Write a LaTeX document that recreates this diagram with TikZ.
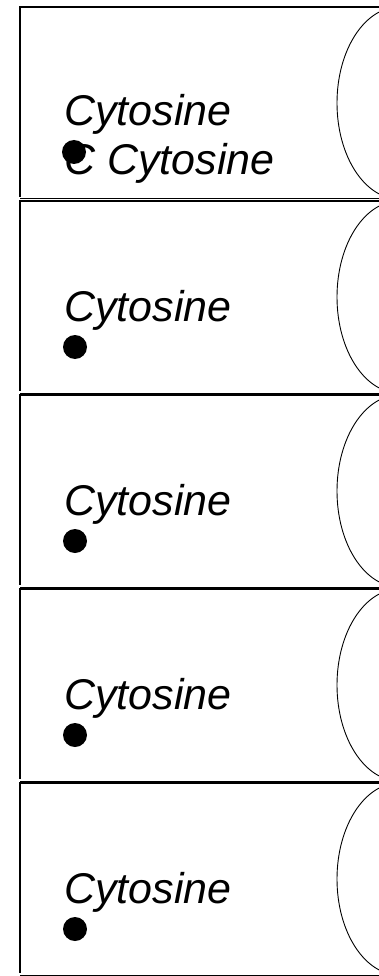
\documentclass[tikz,border=0pt]{standalone}
\usepackage{fontspec}
\setmainfont{Liberation Sans}
\usetikzlibrary{shapes.geometric}
\begin{document}
\begin{tikzpicture}[x=1pt,y=-1pt,
  topline/.style={line width=2pt},
  sideline/.style={line width=2pt},
  botline/.style={line width=1pt},
  lobe/.style={line width=0.9pt},
  label/.style={anchor=base west,inner sep=0pt,font=\fontsize{43}{49}\selectfont\itshape},
  blob/.style={circle,fill=black,inner sep=0pt,minimum size=24pt}]
\useasboundingbox (0,0) rectangle (379,976);
\clip (0,0) rectangle (379,976);
\foreach \i in {0,...,4}{
  \pgfmathsetmacro{\T}{7+194*\i}
  \coordinate (tl\i) at (19,\T);
  \coordinate (tr\i) at (390,\T);
  \coordinate (lb\i) at (20,\T+190);
  \coordinate (bl\i) at (20,\T+192);
  \coordinate (br\i) at (390,\T+192);
  \draw[topline] (tl\i) -- (tr\i);
  \draw[sideline] (20,\T) -- (lb\i);
  \draw[botline] (bl\i) -- (br\i);
  \node[draw,ellipse,lobe,minimum width=124pt,minimum height=192pt,inner sep=0pt] (lobe\i) at (399,\T+96) {};
}
\node[label] (t0) at (64,126) {Cytosine};
\node[label] (t0b) at (64,175) {C Cytosine};
\node[label] (t1) at (64,321) {Cytosine};
\node[label] (t2) at (64,515) {Cytosine};
\node[label] (t3) at (64,709) {Cytosine};
\node[label] (t4) at (64,903) {Cytosine};
\node[blob] (d0) at (74,152) {};
\node[blob] (d1) at (75,347) {};
\node[blob] (d2) at (75,541) {};
\node[blob] (d3) at (75,735) {};
\node[blob] (d4) at (75,929) {};
\end{tikzpicture}
\end{document}
